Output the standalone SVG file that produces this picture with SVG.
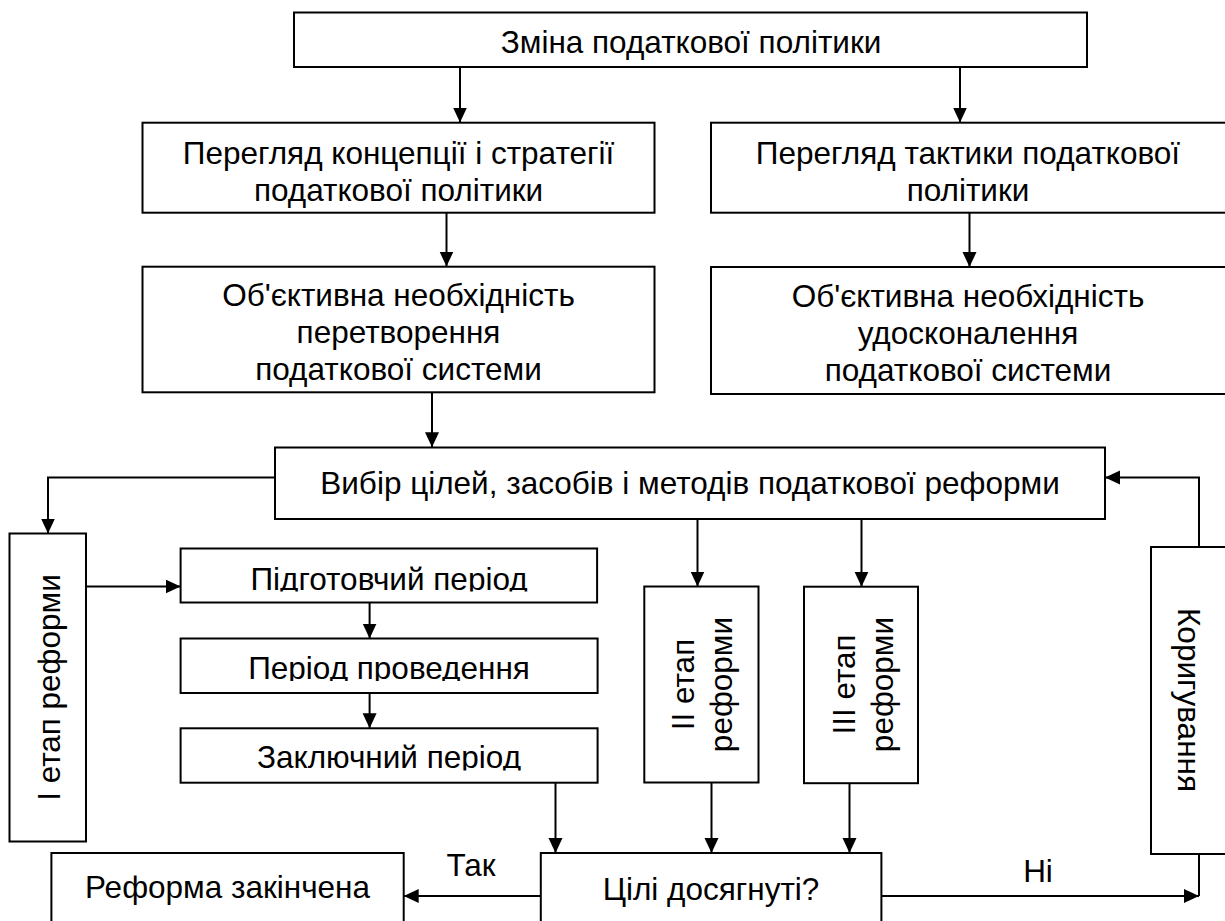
<svg xmlns="http://www.w3.org/2000/svg" width="1225" height="921" viewBox="0 0 1225 921">
<style>
.box{fill:#fff;stroke:#000;stroke-width:2}
.t{font-family:"Liberation Sans",Arial,sans-serif;font-size:31.5px;fill:#000;text-anchor:middle}
.c{fill:none;stroke:#000;stroke-width:2}
</style>
<defs>
<marker id="ah" markerUnits="userSpaceOnUse" markerWidth="16" markerHeight="15" refX="15" refY="7" orient="auto">
<path d="M0,0 L15,7 L0,14 z" fill="#000"/>
</marker>
<clipPath id="clip1" clipPathUnits="userSpaceOnUse"><rect x="181" y="549" width="416" height="42.5"/></clipPath>
<clipPath id="clip2" clipPathUnits="userSpaceOnUse"><rect x="181" y="639" width="416" height="42"/></clipPath>
<clipPath id="clip3" clipPathUnits="userSpaceOnUse"><rect x="181" y="729" width="416" height="41.5"/></clipPath>
</defs>
<rect width="1225" height="921" fill="#fff"/>

<g id="connectors">
<path class="c" d="M460,67 V122.5" marker-end="url(#ah)"/>
<path class="c" d="M960,67 V122.5" marker-end="url(#ah)"/>
<path class="c" d="M446.5,212.7 V266.5" marker-end="url(#ah)"/>
<path class="c" d="M969.5,212.7 V267" marker-end="url(#ah)"/>
<path class="c" d="M432,392.3 V447.3" marker-end="url(#ah)"/>
<path class="c" d="M275,477.5 H48 V533.5" marker-end="url(#ah)"/>
<path class="c" d="M86,586.5 H180.6" marker-end="url(#ah)"/>
<path class="c" d="M369.6,602.5 V638.5" marker-end="url(#ah)"/>
<path class="c" d="M369.6,693 V728.3" marker-end="url(#ah)"/>
<path class="c" d="M697.5,519 V586.5" marker-end="url(#ah)"/>
<path class="c" d="M861.5,519 V586.7" marker-end="url(#ah)"/>
<path class="c" d="M555.5,782.7 V853" marker-end="url(#ah)"/>
<path class="c" d="M711.5,782.5 V853" marker-end="url(#ah)"/>
<path class="c" d="M849.5,783.2 V853" marker-end="url(#ah)"/>
<path class="c" d="M540.8,896 H403.7" marker-end="url(#ah)"/>
<path class="c" d="M881.4,896 H1199" marker-end="url(#ah)"/>
<path class="c" d="M1199,854 V896"/>
<path class="c" d="M1199,547 V477.5 H1105" marker-end="url(#ah)"/>
<text class="t" x="471" y="875.5">Так</text>
<text class="t" x="1038" y="881.5">Ні</text>
</g>

<g id="n-top">
<rect class="box" x="294" y="12.5" width="793" height="54.5"/>
<text class="t" x="691" y="52.7">Зміна податкової політики</text>
</g>
<g id="n-strategy">
<rect class="box" x="142.5" y="122.7" width="512" height="90"/>
<text class="t" x="398.5" y="164">Перегляд концепції і стратегії</text>
<text class="t" x="398.5" y="200.5">податкової політики</text>
</g>
<g id="n-tactics">
<rect class="box" x="711" y="122.7" width="516" height="90"/>
<text class="t" x="968" y="164">Перегляд тактики податкової</text>
<text class="t" x="968" y="200.5">політики</text>
</g>
<g id="n-transform">
<rect class="box" x="142.5" y="266.7" width="512" height="125.6"/>
<text class="t" x="398.5" y="305.5">Об'єктивна необхідність</text>
<text class="t" x="398.5" y="342.5">перетворення</text>
<text class="t" x="398.5" y="379.5">податкової системи</text>
</g>
<g id="n-improve">
<rect class="box" x="711" y="267" width="516" height="127"/>
<text class="t" x="968" y="307">Об'єктивна необхідність</text>
<text class="t" x="968" y="344">удосконалення</text>
<text class="t" x="968" y="381">податкової системи</text>
</g>
<g id="n-choice">
<rect class="box" x="275" y="447.5" width="830" height="71.5"/>
<text class="t" x="690" y="493.5">Вибір цілей, засобів і методів податкової реформи</text>
</g>
<g id="n-stage1">
<rect class="box" x="9.5" y="533.5" width="76.5" height="308"/>
<text class="t" transform="translate(59.5,687.5) rotate(-90)" x="0" y="0">I етап реформи</text>
</g>
<g id="n-prep">
<rect class="box" x="180.6" y="548.5" width="416.5" height="54"/>
<text class="t" x="389" y="589.5" clip-path="url(#clip1)">Підготовчий період</text>
</g>
<g id="n-conduct">
<rect class="box" x="180.6" y="638.5" width="417" height="54.5"/>
<text class="t" x="389" y="679" clip-path="url(#clip2)">Період проведення</text>
</g>
<g id="n-final">
<rect class="box" x="180.6" y="728.3" width="417" height="54.4"/>
<text class="t" x="389" y="768.3" clip-path="url(#clip3)">Заключний період</text>
</g>
<g id="n-stage2">
<rect class="box" x="644.3" y="586.5" width="114.2" height="196"/>
<text class="t" transform="translate(701.5,684.5) rotate(-90)"><tspan x="0" y="-7.5">II етап</tspan><tspan x="0" y="30.5">реформи</tspan></text>
</g>
<g id="n-stage3">
<rect class="box" x="804" y="586.7" width="114" height="196.5"/>
<text class="t" transform="translate(861,684.5) rotate(-90)"><tspan x="0" y="-6">III етап</tspan><tspan x="0" y="31.5">реформи</tspan></text>
</g>
<g id="n-correct">
<rect class="box" x="1151" y="547" width="80" height="307"/>
<text class="t" transform="translate(1178,700) rotate(90)" x="0" y="0">Коригування</text>
</g>
<g id="n-done">
<rect class="box" x="51.4" y="853" width="352.3" height="100"/>
<text class="t" x="227.5" y="898.3">Реформа закінчена</text>
</g>
<g id="n-goals">
<rect class="box" x="540.8" y="853" width="340.6" height="100"/>
<text class="t" x="711" y="900">Цілі досягнуті?</text>
</g>
</svg>
